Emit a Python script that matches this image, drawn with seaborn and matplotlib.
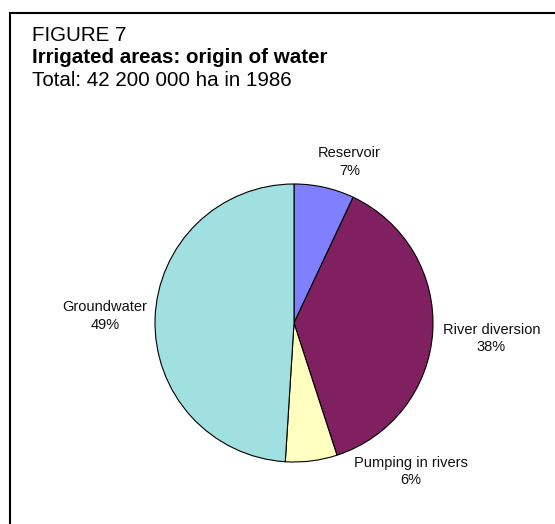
import numpy as np
import seaborn as sns
import matplotlib.pyplot as plt
from matplotlib.patches import Rectangle

# data
sources = ["Reservoir", "River diversion", "Pumping in rivers", "Groundwater"]
shares = [7, 38, 6, 49]
slice_colors = ["#8080FF", "#802060", "#FFFFC0", "#A0E0E0"]

title_lines = ["FIGURE 7", "Irrigated areas: origin of water", "Total: 42 200 000 ha in 1986"]

# label anchor points, in pie-radius units (layout, not data)
label_xy = [(0.40, 1.16), (1.42, -0.11), (0.84, -1.07), (-1.36, 0.05)]

sns.set_style("white")
plt.rcParams['font.family'] = ['Liberation Sans', 'DejaVu Sans']

W, H = 555, 524
fig = plt.figure(figsize=(W / 100, H / 100), dpi=100)

# frame: only the top and left edges fall inside the picture
fig.add_artist(Rectangle((10 / W, -0.2), 1.5, 1.2 - 13 / H, transform=fig.transFigure,
                         fill=False, edgecolor="black", linewidth=1.5))

# pie centre and radius in pixels
cx, cy, r = 294, 323, 139
ax = fig.add_axes([0, 0, 1, 1])
labels = [f"{s}\n{v}%" for s, v in zip(sources, shares)]
wedges, texts = ax.pie(shares, labels=labels, colors=slice_colors, startangle=90,
                       counterclock=False, radius=1,
                       wedgeprops=dict(edgecolor="black", linewidth=0.8),
                       textprops=dict(fontsize=10.5, color="#111111"))
for t, (lx, ly) in zip(texts, label_xy):
    t.set_position((lx, ly))
    t.set_ha("center")
    t.set_va("center")
    t.set_multialignment("center")
    t.set_linespacing(1.32)

ax.set_xlim(-cx / r, (W - cx) / r)
ax.set_ylim(-(H - cy) / r, cy / r)
ax.set_aspect("auto")
ax.axis("off")

# heading, three lines at fixed baselines
baselines = [41, 63, 86]
weights = ["normal", "bold", "normal"]
for txt, yb, w in zip(title_lines, baselines, weights):
    fig.text(32 / W, 1 - yb / H, txt, fontsize=14.8, fontweight=w,
             ha="left", va="baseline", color="black")

fig.savefig("out.png", dpi=100)
